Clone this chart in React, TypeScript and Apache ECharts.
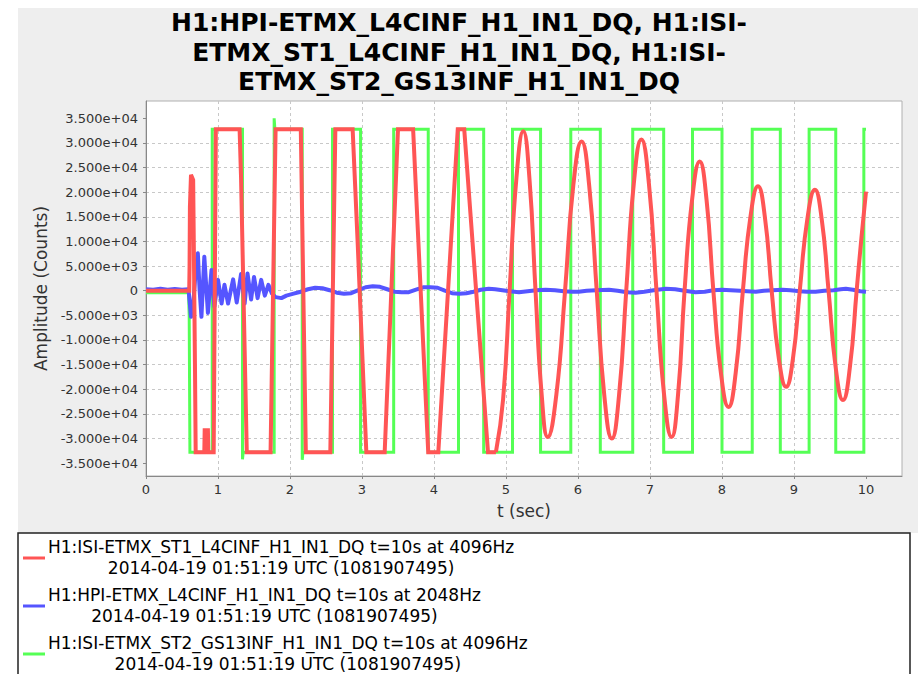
import React, { useEffect, useRef } from "react";
import * as echarts from "echarts";

const TITLE_LINES = [
  "H1:HPI-ETMX_L4CINF_H1_IN1_DQ, H1:ISI-",
  "ETMX_ST1_L4CINF_H1_IN1_DQ, H1:ISI-",
  "ETMX_ST2_GS13INF_H1_IN1_DQ",
];
const X_NAME = "t (sec)";
const Y_NAME = "Amplitude (Counts)";
const X_MIN = 0;
const X_MAX = 10.5;
const X_TICKS = [0, 1, 2, 3, 4, 5, 6, 7, 8, 9, 10];
const Y_MIN = -37600;
const Y_MAX = 38500;
const Y_TICKS = [-35000, -30000, -25000, -20000, -15000, -10000, -5000, 0, 5000, 10000, 15000, 20000, 25000, 30000, 35000];

const LEGEND_NAMES = [
  "H1:ISI-ETMX_ST1_L4CINF_H1_IN1_DQ t=10s at 4096Hz",
  "H1:HPI-ETMX_L4CINF_H1_IN1_DQ t=10s at 2048Hz",
  "H1:ISI-ETMX_ST2_GS13INF_H1_IN1_DQ t=10s at 4096Hz",
];
const LEGEND_TIME = "2014-04-19 01:51:19 UTC (1081907495)";
const COLORS = ["#ff5555", "#5555ff", "#55ff55"];

// H1:ISI-ETMX_ST2_GS13INF_H1_IN1_DQ (green) [t, counts]
const greenST2: number[][] = [
  [0.0, -400], [0.59, -400], [0.6, -5000], [0.61, -32767], [0.92, -32767], [0.92, 32767],
  [1.34, 32767], [1.34, -34200], [1.35, -32767], [1.78, -32767], [1.78, 35000], [1.79, 32767],
  [2.17, 32767], [2.17, -34300], [2.18, -32767], [2.59, -32767], [2.59, 32767], [2.98, 32767],
  [2.98, -32767], [3.44, -32767], [3.44, 32767], [3.92, 32767], [3.92, -32767], [4.34, -32767],
  [4.34, 32767], [4.69, 32767], [4.69, -32767], [5.09, -32767], [5.09, 32767], [5.48, 32767],
  [5.48, -32767], [5.9, -32767], [5.9, 32767], [6.31, 32767], [6.31, -32767], [6.76, -32767],
  [6.76, 32767], [7.19, 32767], [7.19, -32767], [7.59, -32767], [7.59, 32767], [8.0, 32767],
  [8.0, -32767], [8.42, -32767], [8.42, 32767], [8.81, 32767], [8.81, -32767], [9.21, -32767],
  [9.21, 32767], [9.58, 32767], [9.58, -32767], [9.97, -32767], [9.97, 32767], [10.0, 32767],
];

// H1:HPI-ETMX_L4CINF_H1_IN1_DQ (blue)
const blueHPI: number[][] = [
  [0.0, 300], [0.1, 200], [0.2, 400], [0.3, 200], [0.4, 350], [0.5, 200], [0.59, 300],
  [0.605, -2000], [0.625, -5300], [0.65, -4000], [0.685, 3000], [0.72, 7600], [0.745, 0],
  [0.77, -5300], [0.81, 6900], [0.86, -4500], [0.91, 4200], [0.95, -3200], [1.0, 2200],
  [1.05, -2600], [1.09, 1200], [1.14, -2600], [1.21, 2300], [1.26, -2400], [1.32, 3400],
  [1.37, -2600], [1.41, 3500], [1.46, -1800], [1.5, 2800], [1.55, -1500], [1.6, 2200],
  [1.65, -1000], [1.7, 1200], [1.75, -600], [1.8, -1300], [1.88, -1500], [1.95, -1000],
  [2.05, -600], [2.15, -200], [2.25, 300], [2.35, 600], [2.45, 500], [2.55, 100],
  [2.65, -400], [2.75, -600], [2.85, -500], [2.95, 100], [3.05, 700], [3.15, 900],
  [3.25, 800], [3.35, 300], [3.45, -200], [3.55, -300], [3.65, -300], [3.75, 200],
  [3.85, 700], [3.95, 700], [4.05, 600], [4.15, 0], [4.25, -500], [4.35, -600],
  [4.45, -500], [4.55, -200], [4.65, 200], [4.76, 400], [4.85, 300], [4.95, 100],
  [5.05, -100], [5.18, -300], [5.3, -100], [5.42, 100], [5.55, 200], [5.68, 100],
  [5.8, -100], [5.92, -200], [6.01, -200], [6.12, 0], [6.25, 100], [6.43, 200],
  [6.55, 0], [6.68, -300], [6.8, -400], [6.92, -200], [7.05, 100], [7.22, 400],
  [7.35, 300], [7.48, 0], [7.63, -300], [7.76, -200], [7.88, 100], [8.0, 200],
  [8.12, 100], [8.25, 0], [8.35, -100], [8.47, -200], [8.58, 0], [8.7, 100],
  [8.84, 200], [8.95, 100], [9.08, -100], [9.18, -200], [9.3, -200], [9.42, 0],
  [9.55, 100], [9.65, 300], [9.72, 400], [9.82, 200], [9.92, -100], [10.0, -200],
];

// H1:ISI-ETMX_ST1_L4CINF_H1_IN1_DQ (red), saturated part
const redST1Clipped: number[][] = [
  [0.0, 0], [0.6, 0], [0.605, 5000], [0.61, 17000], [0.625, 23500], [0.655, 22500],
  [0.665, 8000], [0.68, -15000], [0.69, -32767], [0.81, -32767], [0.815, -28300],
  [0.86, -28300], [0.865, -32767], [0.94, -32767], [0.97, 32767], [1.3, 32767],
  [1.32, 23000], [1.4, -32767], [1.73, -32767], [1.8, 32767], [2.15, 32767],
  [2.22, -32767], [2.56, -32767], [2.63, 32767], [2.87, 32767], [2.94, 9700],
  [3.06, -32767], [3.315, -32767], [3.5, 32767], [3.71, 32767], [3.92, -32767],
  [4.06, -32767], [4.33, 32767], [4.42, 32767], [4.75, -32767], [4.86, -32767],
];

// red, ringing part: troughs, crossings, shoulders and peaks
const redST1Ringing: number[][] = [
  [4.86, -32767], [4.96, -22000], [5.05, 0], [5.145, 22900], [5.24, 32350], [5.325, 22900],
  [5.41, 0], [5.495, -21000], [5.58, -29700], [5.7, -21000], [5.82, 0], [5.935, 21400],
  [6.05, 30300], [6.155, 21400], [6.26, 0], [6.365, -21200], [6.47, -30000], [6.57, -21200],
  [6.67, 0], [6.775, 21700], [6.88, 30700], [6.985, 21700], [7.09, 0], [7.195, -21000],
  [7.3, -29700], [7.39, -21000], [7.48, 0], [7.585, 18500], [7.69, 26200], [7.785, 18500],
  [7.88, 0], [7.985, -16700], [8.09, -23600], [8.19, -16700], [8.29, 0], [8.395, 15000],
  [8.5, 21200], [8.595, 15000], [8.69, 0], [8.79, -13800], [8.89, -19500], [8.985, -13800],
  [9.08, 0], [9.185, 14500], [9.29, 20500], [9.385, 14500], [9.48, 0], [9.58, -15700],
  [9.68, -22200], [9.775, -15700], [9.87, 0], [9.935, 10500], [10.0, 20100],
];

const FONT = "DejaVu Sans";

function fmtY(v: number): string {
  if (v === 0) return "0";
  const s = v.toExponential(3);
  const [m, e] = s.split("e");
  const sign = e[0] === "-" ? "-" : "+";
  const digits = e.replace(/^[+-]/, "").padStart(2, "0");
  return m + "e" + sign + digits;
}

function measure(text: string, font: string): number {
  const c = document.createElement("canvas");
  const ctx = c.getContext("2d");
  if (!ctx) return text.length * 9;
  ctx.font = font;
  return ctx.measureText(text).width;
}

export default function App() {
  const ref = useRef<HTMLDivElement>(null);
  useEffect(() => {
    if (!ref.current) return;
    const chart = echarts.init(ref.current, undefined, { renderer: "svg" });
    const legendFontSize = 17;
    const legendFont = `${legendFontSize}px "${FONT}"`;
    const legendGraphics: any[] = [];
    const itemTops = [547, 595, 643];
    LEGEND_NAMES.forEach((name, i) => {
      const y1 = itemTops[i];
      const w = measure(name, legendFont);
      legendGraphics.push({
        type: "line",
        silent: true,
        shape: { x1: 23, y1: y1 + 11, x2: 45, y2: y1 + 11 },
        style: { stroke: COLORS[i], lineWidth: 3 },
      });
      legendGraphics.push({
        type: "text",
        silent: true,
        x: 48,
        y: y1,
        style: { text: name, fontSize: legendFontSize, fontFamily: FONT, fill: "#000", align: "left", verticalAlign: "middle" },
      });
      legendGraphics.push({
        type: "text",
        silent: true,
        x: 48 + w / 2,
        y: y1 + 21,
        style: { text: LEGEND_TIME, fontSize: legendFontSize, fontFamily: FONT, fill: "#000", align: "center", verticalAlign: "middle" },
      });
    });

    const lineBase = { type: "line", showSymbol: false, silent: true, animation: false, emphasis: { disabled: true } };

    chart.setOption({
      animation: false,
      backgroundColor: "#ffffff",
      title: {
        text: TITLE_LINES.join("\n"),
        left: "center",
        top: 8,
        padding: 0,
        textStyle: { fontFamily: FONT, fontWeight: "bold", fontSize: 25, lineHeight: 29.5, color: "#000" },
      },
      graphic: [
        { type: "rect", z: -10, silent: true, shape: { x: 18, y: 8, width: 900, height: 525 }, style: { fill: "#eeeeee" } },
        { type: "rect", silent: true, shape: { x: 18, y: 533, width: 892, height: 160 }, style: { fill: "#ffffff", stroke: "#222222", lineWidth: 1.5 } },
        ...legendGraphics,
      ],
      grid: {
        left: 146,
        top: 101,
        width: 756,
        height: 375,
        show: true,
        backgroundColor: "#ffffff",
        borderColor: "#b0b0b0",
        borderWidth: 1,
        containLabel: false,
      },
      xAxis: {
        type: "value",
        min: X_MIN,
        max: X_MAX,
        interval: 1,
        name: X_NAME,
        nameLocation: "middle",
        nameGap: 26,
        nameTextStyle: { fontFamily: FONT, fontSize: 17, color: "#333", verticalAlign: "top" },
        axisLine: { show: true, onZero: false, lineStyle: { color: "#888", width: 1 } },
        axisTick: { show: true, length: 3, lineStyle: { color: "#888" }, customValues: X_TICKS },
        axisLabel: { fontFamily: FONT, fontSize: 13, color: "#333", margin: 7, customValues: X_TICKS },
        splitLine: { show: true, showMinLine: false, showMaxLine: false, lineStyle: { color: "#c8c8c8", type: [3, 3], width: 1 } },
      },
      yAxis: {
        type: "value",
        min: Y_MIN,
        max: Y_MAX,
        splitNumber: 15,
        name: Y_NAME,
        nameLocation: "middle",
        nameGap: 94,
        nameTextStyle: { fontFamily: FONT, fontSize: 17, color: "#333" },
        axisLine: { show: true, onZero: false, lineStyle: { color: "#888", width: 1 } },
        axisTick: { show: true, length: 3, lineStyle: { color: "#888" }, customValues: Y_TICKS },
        axisLabel: { fontFamily: FONT, fontSize: 13, color: "#333", margin: 8, customValues: Y_TICKS, formatter: (v: number) => fmtY(v) },
        splitLine: { show: true, showMinLine: false, showMaxLine: false, lineStyle: { color: "#c8c8c8", type: [3, 3], width: 1 } },
      },
      series: [
        { ...lineBase, name: "ST2", data: greenST2, lineStyle: { color: COLORS[2], width: 3, join: "miter", cap: "butt" }, itemStyle: { color: COLORS[2] } },
        { ...lineBase, name: "HPI", data: blueHPI, lineStyle: { color: COLORS[1], width: 4, join: "round" }, itemStyle: { color: COLORS[1] } },
        { ...lineBase, name: "ST1", data: redST1Clipped, lineStyle: { color: COLORS[0], width: 4, join: "miter", miterLimit: 4, cap: "butt" }, itemStyle: { color: COLORS[0] } },
        { ...lineBase, name: "ST1b", data: redST1Ringing, smooth: 0.5, lineStyle: { color: COLORS[0], width: 4, join: "round" }, itemStyle: { color: COLORS[0] } },
      ],
    });
    return () => chart.dispose();
  }, []);
  return <div ref={ref} style={{ position: "absolute", left: 0, top: 0, width: 918, height: 674 }} />;
}
